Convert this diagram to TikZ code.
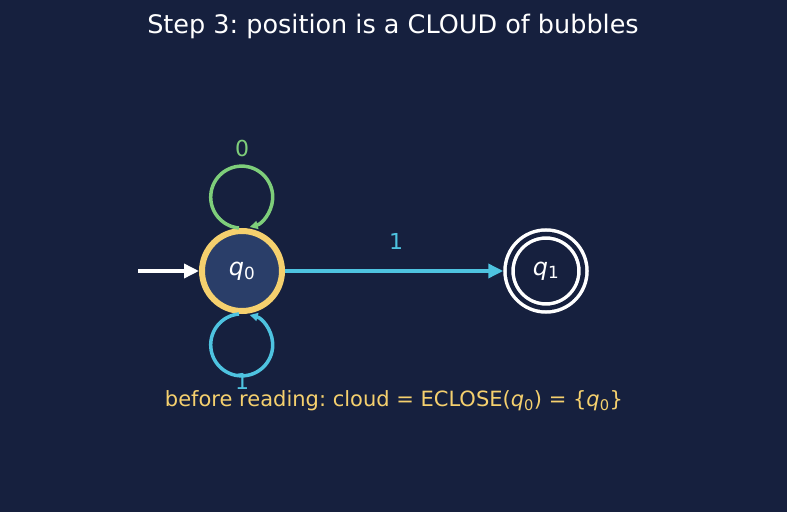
\documentclass[tikz,border=0pt]{standalone}
\usepackage{fontspec}
\setmainfont{DejaVu Sans}
\usetikzlibrary{arrows.meta,positioning}
\definecolor{bgnavy}{RGB}{22,32,62}
\definecolor{qfill}{RGB}{42,62,105}
\definecolor{ringyellow}{RGB}{245,208,110}
\definecolor{loopgreen}{RGB}{126,206,122}
\definecolor{edgecyan}{RGB}{78,195,224}
\newcommand{\stq}[1]{\textit{q}\textsubscript{#1}}
\frenchspacing

\begin{document}
\begin{tikzpicture}[x=1pt,y=1pt,
  state/.style={circle,minimum size=80pt,inner sep=0pt,text=white,font=\fontsize{24}{24}\selectfont},
  lbl/.style={font=\fontsize{22}{22}\selectfont},
  bigtip/.style={-{Triangle[length=15pt,width=14pt]}},
  looptip/.style={-{Triangle[length=8pt,width=8pt]}}]
\fill[bgnavy] (0,0) rectangle (787,512);
\useasboundingbox (0,0) rectangle (787,512);
\node[text=white,font=\fontsize{25.5}{25.5}\selectfont] (title) at (393,486) {Step 3: position is a CLOUD of bubbles};
% states
\node[state,draw=ringyellow,line width=6pt,fill=qfill] (q0) at (242,241) {\stq{0}};
\node[state,minimum size=74pt,draw=white,line width=3.5pt,double=bgnavy,double distance=4.5pt] (q1) at (546,241) {\stq{1}};
\coordinate (start) at (138,241);
% edges
\draw[white,line width=3.5pt,bigtip] (start) -- (q0);
\draw[edgecyan,line width=3.5pt,bigtip,shorten >=4pt] (q0) -- node[lbl,text=edgecyan,above=16pt] (e1) {1} (q1);
\draw[loopgreen,line width=3.5pt,looptip] ([xshift=-3pt]q0.north) arc[start angle=-95,delta angle=-340,radius=31];
\draw[edgecyan,line width=3.5pt,looptip] ([xshift=-3pt]q0.south) arc[start angle=95,delta angle=340,radius=31];
\node[lbl,text=loopgreen] (l0) at (242,364) {0};
\node[lbl,text=edgecyan] (l1) at (242,131) {1};
% caption
\node[fill=bgnavy,inner sep=2pt,text=ringyellow,font=\fontsize{21}{21}\selectfont] (cap) at (394,111) {before reading: cloud = ECLOSE(\stq{0}) = \{\stq{0}\}};
\end{tikzpicture}
\end{document}
